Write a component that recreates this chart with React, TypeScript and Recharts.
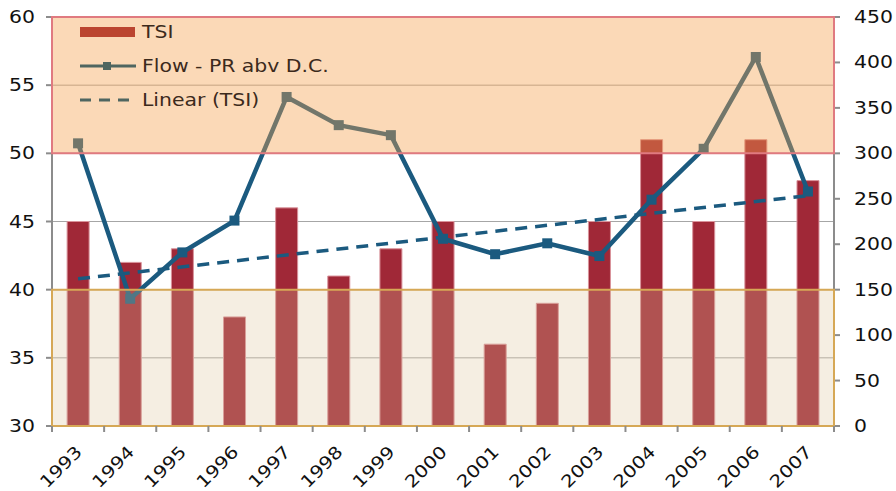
import React from 'react';
import { ComposedChart, Bar, Line, XAxis, YAxis, CartesianGrid, ReferenceArea } from 'recharts';

const years = ['1993', '1994', '1995', '1996', '1997', '1998', '1999', '2000', '2001', '2002', '2003', '2004', '2005', '2006', '2007'];
const tsi = [45, 42, 43, 38, 46, 41, 43, 45, 36, 39, 45, 51, 45, 51, 48];
const flow = [311, 140, 191, 226, 362, 331, 320, 206, 189, 201, 187, 249, 305, 406, 258];
// linear trend of TSI, read at the two ends
const trendEnds = [40.8, 46.9];
const leftTicks = [30, 35, 40, 45, 50, 55, 60];
const rightTicks = [0, 50, 100, 150, 200, 250, 300, 350, 400, 450];
const names = { tsi: 'TSI', flow: 'Flow - PR abv D.C.', trend: 'Linear (TSI)' };

const rows = years.map((year, i) => ({
  year,
  tsi: tsi[i],
  flow: flow[i],
  trend: i === 0 ? trendEnds[0] : i === years.length - 1 ? trendEnds[1] : null,
}));

const FONT = '"DejaVu Sans", Verdana, sans-serif';
const BAR = '#a02837';
const LINE = '#1b5a7f';

const LeftTick = (p: any) => (
  <text transform={`translate(${p.x},${p.y}) scale(1.2,1)`} dy={6} textAnchor="end" fontSize={17} fill="#111" fontFamily={FONT}>
    {p.payload.value}
  </text>
);

const RightTick = (p: any) => (
  <text transform={`translate(${p.x},${p.y}) scale(1.2,1)`} dy={6} textAnchor="start" fontSize={17} fill="#111" fontFamily={FONT}>
    {p.payload.value}
  </text>
);

const YearTick = (p: any) => {
  const half = p.payload.offset || 26;
  const last = p.index === years.length - 1;
  return (
    <g>
      <line x1={p.x - half} x2={p.x - half} y1={p.y - 8} y2={p.y - 2} stroke="#8c8c8c" strokeWidth={2} />
      {last && <line x1={p.x + half} x2={p.x + half} y1={p.y - 8} y2={p.y - 2} stroke="#8c8c8c" strokeWidth={2} />}
      <text transform={`translate(${p.x + 5},${p.y + 19}) rotate(-45) scale(1.18,1)`} textAnchor="end" fontSize={17} fill="#111" fontFamily={FONT}>
        {p.payload.value}
      </text>
    </g>
  );
};

const SquareDot = (p: any) => {
  if (p.cx == null || p.cy == null) return null;
  return <rect key={p.index} x={p.cx - 5} y={p.cy - 5} width={10} height={10} fill={LINE} />;
};

const legendText: React.CSSProperties = {
  display: 'inline-block',
  transform: 'scaleX(1.2)',
  transformOrigin: 'left center',
  fontSize: 17,
  color: '#3c2a1c',
  fontFamily: FONT,
  whiteSpace: 'nowrap',
};

function ChartLegend() {
  const row: React.CSSProperties = { display: 'flex', alignItems: 'center', height: 34 };
  return (
    <div style={{ position: 'absolute', left: 80, top: 15 }}>
      <div style={row}>
        <svg width={62} height={12}><rect x={0} y={1} width={55} height={10} fill="#bb4530" /></svg>
        <span style={legendText}>{names.tsi}</span>
      </div>
      <div style={row}>
        <svg width={62} height={12}>
          <line x1={0} x2={56} y1={6} y2={6} stroke="#4f6660" strokeWidth={3} />
          <rect x={23} y={2} width={8} height={8} fill="#4f6660" />
        </svg>
        <span style={legendText}>{names.flow}</span>
      </div>
      <div style={row}>
        <svg width={62} height={12}>
          <line x1={0} x2={56} y1={6} y2={6} stroke="#4f6660" strokeWidth={3} strokeDasharray="11 8" />
        </svg>
        <span style={legendText}>{names.trend}</span>
      </div>
    </div>
  );
}

export default function App() {
  return (
    <div style={{ position: 'absolute', left: 0, top: 0, width: 896, height: 491, background: '#fff' }}>
      <ComposedChart width={896} height={491} data={rows} margin={{ top: 17, right: 0, bottom: 0, left: 0 }} barCategoryGap="29%">
        <CartesianGrid vertical={false} stroke="#a6a6a6" yAxisId="left" />
        <XAxis dataKey="year" height={65} tickLine={false} axisLine={false} tick={<YearTick />} interval={0} />
        <YAxis yAxisId="left" domain={[30, 60]} ticks={leftTicks} width={52} tickMargin={11} stroke="#8c8c8c" tickLine={{ stroke: '#8c8c8c', strokeWidth: 2 }} axisLine={{ stroke: '#8c8c8c', strokeWidth: 2 }} tick={<LeftTick />} />
        <YAxis yAxisId="right" orientation="right" domain={[0, 450]} ticks={rightTicks} width={62} tickMargin={14} tickLine={{ stroke: '#8c8c8c', strokeWidth: 2 }} axisLine={{ stroke: '#8c8c8c', strokeWidth: 2 }} tick={<RightTick />} />
        <Bar yAxisId="left" dataKey="tsi" name={names.tsi} fill={BAR} stroke="#d9939b" strokeWidth={1} isAnimationActive={false} />
        <Line yAxisId="left" dataKey="trend" name={names.trend} stroke={LINE} strokeWidth={3.5} strokeDasharray="12 8" dot={false} connectNulls isAnimationActive={false} />
        <Line yAxisId="right" dataKey="flow" name={names.flow} stroke={LINE} strokeWidth={4.5} dot={<SquareDot />} isAnimationActive={false} />
        <ReferenceArea yAxisId="left" y1={50} y2={60} fill="#f5a04a" fillOpacity={0.4} stroke="#e07a80" strokeWidth={2} zIndex={1000} />
        <ReferenceArea yAxisId="left" y1={30} y2={40} fill="#dbc297" fillOpacity={0.28} stroke="#d6a856" strokeWidth={2} zIndex={1000} />
      </ComposedChart>
      <ChartLegend />
    </div>
  );
}
